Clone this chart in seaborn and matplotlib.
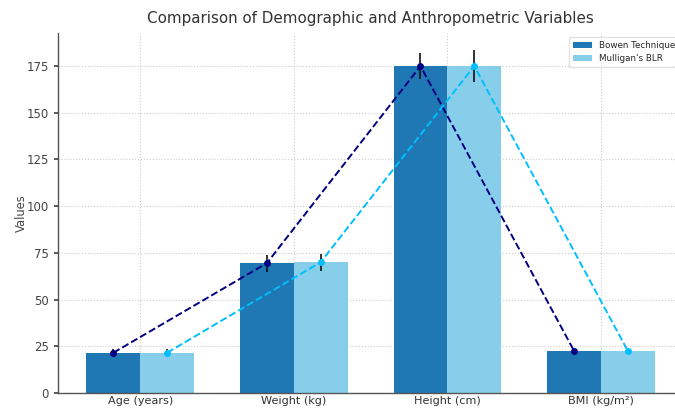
import numpy as np
import seaborn as sns
import matplotlib.pyplot as plt

sns.set_theme(style="whitegrid")
plt.rcParams['font.family'] = ['DejaVu Sans']

# data
variables = ['Age (years)', 'Weight (kg)', 'Height (cm)', 'BMI (kg/m²)']
bowen_mean = [21.5, 69.5, 175.0, 22.5]
bowen_sd = [2.0, 4.5, 7.0, 1.0]
mulligan_mean = [21.5, 70.0, 175.0, 22.5]
mulligan_sd = [2.0, 4.5, 8.5, 1.0]

dark = '#1F77B4'
light = '#87CEEB'

fig = plt.figure(figsize=(6.75, 4.08), dpi=100)
ax = fig.add_axes([0.086, 0.037, 0.926, 0.882])

x = np.arange(len(variables))
w = 0.35

err = {'ecolor': '#111111', 'elinewidth': 1.2, 'capsize': 0}
ax.bar(x - w / 2, bowen_mean, w, yerr=bowen_sd, color=dark, label='Bowen Technique',
       linewidth=0, error_kw=err, zorder=2)
ax.bar(x + w / 2, mulligan_mean, w, yerr=mulligan_sd, color=light, label="Mulligan's BLR",
       linewidth=0, error_kw=err, zorder=2)

sns.lineplot(x=x - w / 2, y=bowen_mean, ax=ax, color='navy', linestyle='--', marker='o',
             markersize=5, markeredgewidth=0, linewidth=1.4, zorder=3, legend=False)
sns.lineplot(x=x + w / 2, y=mulligan_mean, ax=ax, color='deepskyblue', linestyle='--', marker='o',
             markersize=5, markeredgewidth=0, linewidth=1.4, zorder=3, legend=False)

ax.set_xticks(x)
ax.set_xticklabels(variables, fontsize=8.1, color='#333333')
ax.tick_params(axis='y', labelsize=8.5, colors='#444444', length=3, left=True)
ax.tick_params(axis='x', pad=2, length=0)
ax.set_ylabel('Values', fontsize=8.3, color='#444444')
ax.yaxis.set_label_coords(-0.048, 0.5)
ax.set_title('Comparison of Demographic and Anthropometric Variables', fontsize=10.9,
             color='#333333', pad=7)

ax.grid(True, linestyle=':', color='#cccccc', linewidth=0.8)
ax.set_axisbelow(True)
for s in ['top', 'right']:
    ax.spines[s].set_visible(False)
for s in ['left', 'bottom']:
    ax.spines[s].set_color('#555555')
    ax.spines[s].set_linewidth(1.0)

ax.legend(loc='upper right', fontsize=6.3, frameon=True, edgecolor='#dddddd', fancybox=True,
          handlelength=2.2)

fig.savefig('out.png', dpi=100)
